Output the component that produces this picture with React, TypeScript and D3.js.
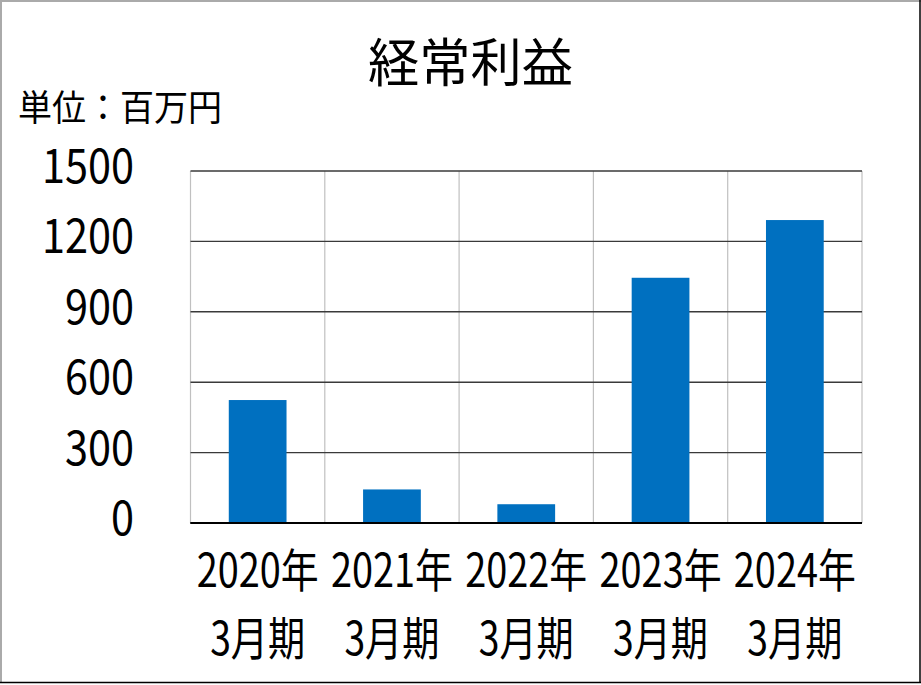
import React from "react";
import * as d3 from "d3";

const years = ["2020年", "2021年", "2022年", "2023年", "2024年"];
const periods = ["3月期", "3月期", "3月期", "3月期", "3月期"];
const values = [524, 143, 80, 1045, 1291];
const yTicks = [0, 300, 600, 900, 1200, 1500];
const title = "経常利益";
const unitLabel = "単位：百万円";

const W = 921;
const H = 685;
const FONT = "'Noto Sans CJK JP', 'Noto Sans', sans-serif";

export default function App() {
  const x = d3.scaleBand<string>().domain(years).range([190.5, 862]).paddingInner(0).paddingOuter(0);
  const y = d3.scaleLinear().domain([0, 1500]).range([523, 171]);
  const barW = x.bandwidth() * 0.43;

  return (
    <svg
      width={W}
      height={H}
      style={{ position: "absolute", left: 0, top: 0, background: "#fff" }}
    >
      <rect x={0} y={0} width={W} height={H} fill="#fff" />
      {/* border */}
      <line x1={0} y1={1} x2={W} y2={1} stroke="#aaa" strokeWidth={2} />
      <line x1={1} y1={0} x2={1} y2={683} stroke="#aaa" strokeWidth={2} />
      <line x1={920} y1={0} x2={920} y2={683} stroke="#000" strokeWidth={1.5} />
      <line x1={0} y1={682.5} x2={921} y2={682.5} stroke="#000" strokeWidth={1.5} />

      {/* title */}
      <text
        x={470.5}
        y={82}
        textAnchor="middle"
        fontFamily={FONT}
        fontSize={52}
        textLength={205}
        lengthAdjust="spacingAndGlyphs"
        fill="#000"
      >
        {title}
      </text>
      <text
        x={18}
        y={121}
        fontFamily={FONT}
        fontSize={36}
        textLength={204}
        lengthAdjust="spacingAndGlyphs"
        fill="#000"
      >
        {unitLabel}
      </text>

      {/* vertical gridlines */}
      {[...years.map((d) => x(d)!), 862].map((xv, i) => (
        <line key={"v" + i} x1={xv} x2={xv} y1={y(1500)} y2={y(0)} stroke="#c0c0c0" strokeWidth={1.2} />
      ))}
      {/* horizontal gridlines */}
      {yTicks.map((t) => (
        <line
          key={"h" + t}
          x1={190.5}
          x2={862}
          y1={y(t)}
          y2={y(t)}
          stroke={t === 0 ? "#000" : "#3a3a3a"}
          strokeWidth={t === 0 ? 1.8 : 1.4}
        />
      ))}

      {/* bars */}
      {values.map((v, i) => {
        const cx = x(years[i])! + x.bandwidth() / 2;
        return (
          <rect
            key={"b" + i}
            x={cx - barW / 2}
            y={y(v)}
            width={barW}
            height={y(0) - y(v)}
            fill="#0070C0"
          />
        );
      })}
      {/* zero axis redraw on top */}
      <line x1={190.5} x2={862} y1={y(0)} y2={y(0)} stroke="#000" strokeWidth={1.8} />

      {/* y tick labels */}
      {yTicks.map((t) => {
        const s = String(t);
        return (
          <text
            key={"yt" + t}
            x={134}
            y={y(t) + 12}
            textAnchor="end"
            fontFamily={FONT}
            fontSize={47}
            textLength={s.length * 23}
            lengthAdjust="spacingAndGlyphs"
            fill="#000"
          >
            {s}
          </text>
        );
      })}

      {/* x labels */}
      {years.map((d, i) => {
        const cx = x(d)! + x.bandwidth() / 2;
        return (
          <g key={"xl" + i}>
            <text
              x={cx}
              y={587}
              textAnchor="middle"
              fontFamily={FONT}
              fontSize={46}
              textLength={122}
              lengthAdjust="spacingAndGlyphs"
              fill="#000"
            >
              {d}
            </text>
            <text
              x={cx}
              y={655}
              textAnchor="middle"
              fontFamily={FONT}
              fontSize={46}
              textLength={95}
              lengthAdjust="spacingAndGlyphs"
              fill="#000"
            >
              {periods[i]}
            </text>
          </g>
        );
      })}
    </svg>
  );
}
